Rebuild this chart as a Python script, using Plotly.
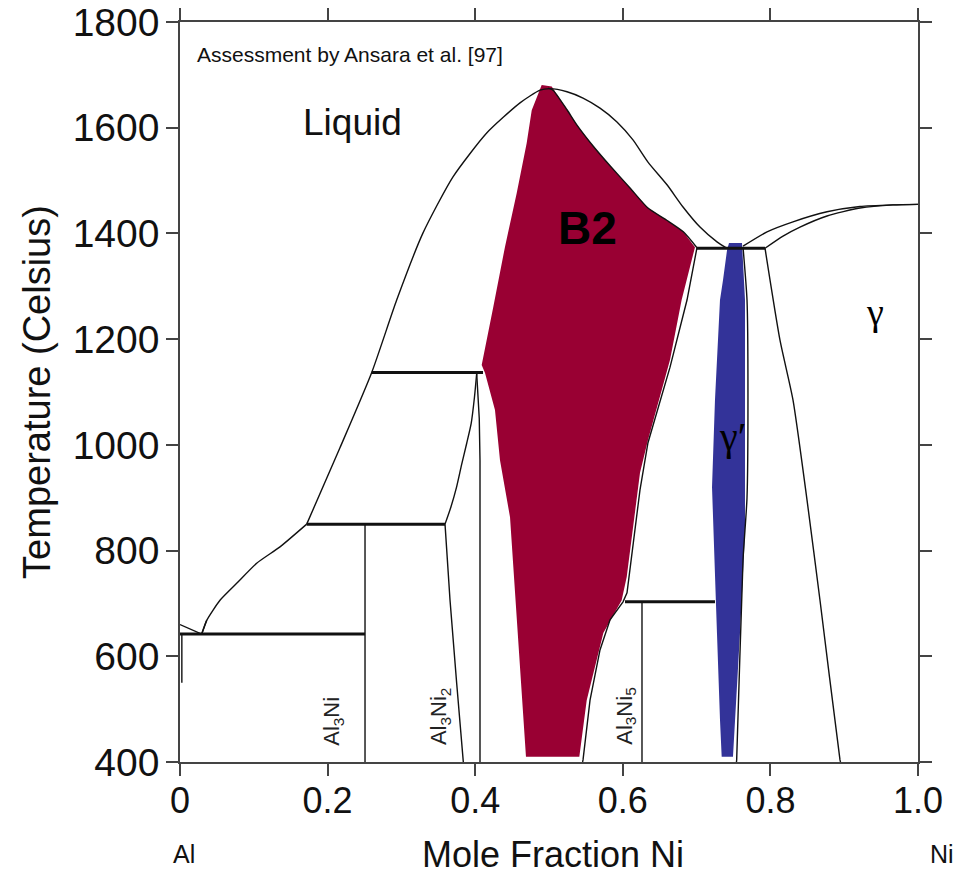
import plotly.graph_objects as go

# ---------------- data (mole fraction Ni, temperature in Celsius) ----------------
# Liquidus from Al side over the B2 maximum down to the gamma' peritectic
liq_x = [0.0, 0.0294, 0.0362, 0.0542, 0.0768, 0.1039, 0.1355, 0.1717, 0.2166, 0.2598,
         0.2936, 0.3293, 0.3699, 0.4156, 0.4607, 0.4878, 0.5014, 0.5244, 0.5461, 0.5691,
         0.5921, 0.6138, 0.6341, 0.6599, 0.6816, 0.7046, 0.7276, 0.7412]
liq_t = [660, 642, 668, 706, 738, 776, 807, 850, 994, 1137,
         1274, 1401, 1507, 1590, 1647, 1671, 1674, 1668, 1656, 1637,
         1611, 1577, 1535, 1492, 1450, 1412, 1384, 1372]

# B2 solidus (Ni side) + B2 solvus + Al3Ni5 boundary
b2r_x = [0.4990, 0.5054, 0.5244, 0.5379, 0.5600, 0.5827, 0.6098, 0.6341, 0.6595, 0.6820,
         0.7005, 0.6870, 0.6640, 0.6341, 0.6233, 0.6057, 0.6003, 0.5827, 0.5691, 0.5556,
         0.5461, 0.5455]
b2r_t = [1675, 1671, 1634, 1605, 1565, 1528, 1486, 1448, 1425, 1403,
         1373, 1274, 1147, 1004, 915, 720, 703, 669, 612, 517,
         404, 400]

# B2 single-phase field (filled)
b2_x = [0.4901, 0.5037, 0.5244, 0.5379, 0.5600, 0.5827, 0.6098, 0.6341, 0.6595, 0.6820,
        0.6978, 0.6797, 0.6640, 0.6341, 0.6233, 0.6053, 0.5985, 0.5736, 0.5511, 0.5420,
        0.5411, 0.4688, 0.4630, 0.4580, 0.4472, 0.4336, 0.4268, 0.4133, 0.4088, 0.4245,
        0.4404, 0.4562, 0.4698, 0.4766]
b2_t = [1681, 1678, 1634, 1605, 1565, 1528, 1486, 1448, 1425, 1403,
        1374, 1274, 1161, 1009, 947, 750, 706, 644, 517, 413,
        410, 410, 536, 631, 863, 971, 1066, 1136, 1151, 1261,
        1375, 1476, 1571, 1633]

# gamma' single-phase field (filled)
gp_x = [0.7439, 0.7615, 0.7656, 0.7656, 0.7656, 0.7588, 0.7493, 0.7493, 0.7340, 0.7317,
        0.7276, 0.7249, 0.7209, 0.7249, 0.7317, 0.7358, 0.7412]
gp_t = [1382, 1382, 1274, 1085, 833, 644, 413, 410, 410, 480,
        644, 769, 920, 1085, 1274, 1312, 1368]

# gamma' / (gamma + gamma') boundary
gpr_x = [0.7629, 0.7683, 0.7696, 0.7683, 0.7629, 0.7543, 0.7540]
gpr_t = [1374, 1274, 1100, 900, 782, 404, 400]

# gamma solvus
gs_x = [0.7927, 0.8130, 0.8306, 0.8496, 0.8672, 0.8943, 0.8950]
gs_t = [1372, 1198, 1085, 896, 706, 404, 400]

# gamma liquidus and solidus
gl_x = [0.7629, 0.7954, 0.8306, 0.8767, 0.9214, 0.9661, 1.0]
gl_t = [1376, 1403, 1422, 1441, 1451, 1454, 1455]
gsol_x = [0.7927, 0.8171, 0.8401, 0.8767, 0.9214, 0.9661, 1.0]
gsol_t = [1372, 1395, 1412, 1433, 1448, 1454, 1455]

# Al3Ni2 boundaries
a32l_x = [0.4020, 0.3990, 0.3945, 0.3885, 0.3815, 0.3749, 0.3670, 0.3591, 0.3659, 0.3749, 0.3839]
a32l_t = [1135, 1090, 1040, 1003, 962, 921, 882, 850, 706, 549, 400]
a32r_x = [0.4020, 0.4055, 0.4065, 0.4065]
a32r_t = [1136, 1050, 971, 400]

# invariant (horizontal) lines: x start, x end, temperature
inv_x0 = [0.0, 0.1717, 0.2598, 0.6030, 0.7005]
inv_x1 = [0.2507, 0.3591, 0.4106, 0.7249, 0.7927]
inv_t = [642, 850, 1137, 703, 1372]

# stoichiometric / solvus verticals: x, T bottom, T top
vert_x = [0.2507, 0.6260, 0.0025]
vert_t0 = [400, 400, 550]
vert_t1 = [850, 703, 642]

x_ticks = [0, 0.2, 0.4, 0.6, 0.8, 1.0]
x_tick_labels = ["0", "0.2", "0.4", "0.6", "0.8", "1.0"]
y_ticks = [400, 600, 800, 1000, 1200, 1400, 1600, 1800]

BLACK = "#111111"
FONT = "Liberation Sans, Arial, Helvetica, sans-serif"
SERIF = "Liberation Serif, Times New Roman, serif"

fig = go.Figure()

fig.add_trace(go.Scatter(x=b2_x, y=b2_t, mode="lines", fill="toself", fillcolor="#990033",
                         line=dict(width=0, color="#990033"), hoverinfo="skip", showlegend=False))
fig.add_trace(go.Scatter(x=gp_x, y=gp_t, mode="lines", fill="toself", fillcolor="#333399",
                         line=dict(width=0, color="#333399"), hoverinfo="skip", showlegend=False))

def thin(xs, ts, w=1.4):
    fig.add_trace(go.Scatter(x=xs, y=ts, mode="lines", line=dict(color=BLACK, width=w, shape="spline", smoothing=0.6),
                             hoverinfo="skip", showlegend=False))

def straight(xs, ts, w=1.4):
    fig.add_trace(go.Scatter(x=xs, y=ts, mode="lines", line=dict(color=BLACK, width=w),
                             hoverinfo="skip", showlegend=False))

straight(liq_x[:3], liq_t[:3])
thin(liq_x[1:8], liq_t[1:8])
thin(liq_x[7:], liq_t[7:])
thin(b2r_x[:11], b2r_t[:11])
straight(b2r_x[10:], b2r_t[10:])
thin(gpr_x, gpr_t)
thin(gs_x, gs_t)
thin(gl_x, gl_t)
thin(gsol_x, gsol_t)
thin(a32l_x[:8], a32l_t[:8])
straight(a32l_x[7:], a32l_t[7:])
straight(a32r_x, a32r_t)
for xv, t0, t1 in zip(vert_x, vert_t0, vert_t1):
    straight([xv, xv], [t0, t1])
for x0, x1, tv in zip(inv_x0, inv_x1, inv_t):
    straight([x0, x1], [tv, tv], w=3)

axis_common = dict(showline=True, linecolor="#444444", linewidth=1.5, mirror="ticks",
                   ticks="outside", ticklen=12, tickwidth=1.5, tickcolor="#444444",
                   showgrid=False, zeroline=False, automargin=False, ticklabeloverflow="allow")

fig.update_xaxes(range=[0, 1], tickvals=x_ticks, ticktext=x_tick_labels,
                 tickfont=dict(family=FONT, size=36, color="#111"), ticklabelstandoff=-6,
                 **axis_common)
fig.update_yaxes(range=[400, 1800], tickvals=y_ticks,
                 tickfont=dict(family=FONT, size=39, color="#111"), ticklabelstandoff=-1,
                 title=dict(text="Temperature (Celsius)", font=dict(family=FONT, size=38, color="#111"),
                            standoff=10),
                 **axis_common)

ann = []
ann.append(dict(x=0.0203, y=1738, text="Assessment by Ansara et al. [97]", showarrow=False,
                xanchor="left", yanchor="middle", font=dict(family=FONT, size=21, color="#111")))
ann.append(dict(x=0.2344, y=1609, text="Liquid", showarrow=False,
                font=dict(family=FONT, size=37, color="#111")))
ann.append(dict(x=0.5528, y=1410, text="<b>B2</b>", showarrow=False,
                font=dict(family=FONT, size=46, color="#000")))
ann.append(dict(x=0.9417, y=1251, text="γ", showarrow=False,
                font=dict(family=SERIF, size=38, color="#000")))
ann.append(dict(x=0.7480, y=1015, text="γ′", showarrow=False,
                font=dict(family=SERIF, size=40, color="#000")))
for xv, tv, txt in [(0.2073, 478, "Al<sub>3</sub>Ni"), (0.3523, 485, "Al<sub>3</sub>Ni<sub>2</sub>"),
                    (0.6040, 487, "Al<sub>3</sub>Ni<sub>5</sub>")]:
    ann.append(dict(x=xv, y=tv, text=txt, showarrow=False, textangle=-90,
                    font=dict(family=FONT, size=22, color="#222")))
for xv, txt, sz in [(0.005, "Al", 25), (1.033, "Ni", 25), (0.505, "Mole Fraction Ni", 36)]:
    ann.append(dict(x=xv, y=0, xref="paper", yref="paper", text=txt, showarrow=False,
                    xanchor="center", yanchor="middle", yshift=-92,
                    font=dict(family=FONT, size=sz, color="#111")))

# page body adds an 8px offset; size the figure so the plot area lands where the reference has it
fig.update_layout(width=959, height=867, margin=dict(l=172, r=49, t=14, b=113, autoexpand=False),
                  paper_bgcolor="white", plot_bgcolor="white", annotations=ann,
                  showlegend=False)

fig.write_html("out.html")
